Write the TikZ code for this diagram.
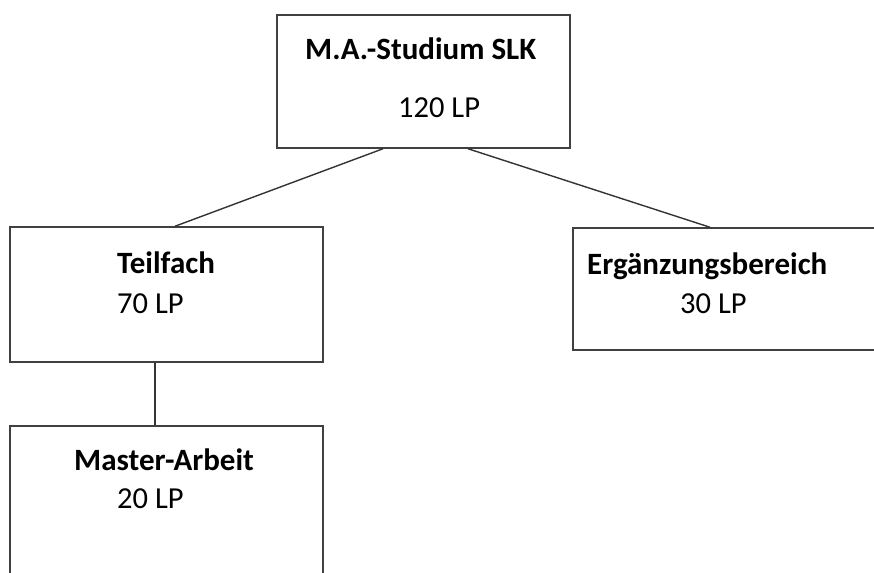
\documentclass[tikz,border=0pt]{standalone}
\usepackage{fontspec}
\setmainfont{Carlito}
\begin{document}
\begin{tikzpicture}[x=1pt,y=-1pt,
  box/.style={draw=black!75,line width=1.5pt,rectangle,inner sep=0pt},
  conn/.style={draw=black!80,line width=1.4pt},
  ttl/.style={anchor=base west,inner sep=0pt,font=\fontsize{31}{34}\selectfont\bfseries},
  val/.style={anchor=base west,inner sep=0pt,font=\fontsize{30.5}{34}\selectfont}]
\clip (0,0) rectangle (874,572);
\node[box,minimum width=293pt,minimum height=133pt] (top) at (423.5,81.5) {};
\node[box,minimum width=313pt,minimum height=135pt] (teil) at (166.5,294.5) {};
\node[box,minimum width=317pt,minimum height=122pt] (erg) at (731.5,289) {};
\node[box,minimum width=313pt,minimum height=174pt] (master) at (166.5,513) {};
\node[ttl] (topT) at (305,60) {M.A.-Studium SLK};
\node[val] (topV) at (398,118) {120 LP};
\node[ttl] (teilT) at (117,273) {Teilfach};
\node[val] (teilV) at (117,313) {70 LP};
\node[ttl] (ergT) at (587,274) {Ergänzungsbereich};
\node[val] (ergV) at (680,313) {30 LP};
\node[ttl] (masterT) at (74,470) {Master-Arbeit};
\node[val] (masterV) at (117,508) {20 LP};
\draw[conn] ([xshift=-40.5pt]top.south) -- ([xshift=8.5pt]teil.north);
\draw[conn] ([xshift=44.5pt]top.south) -- ([xshift=-21.5pt]erg.north);
\draw[conn] ([xshift=-11.5pt]teil.south) -- ([xshift=-11.5pt]master.north);
\end{tikzpicture}
\end{document}
